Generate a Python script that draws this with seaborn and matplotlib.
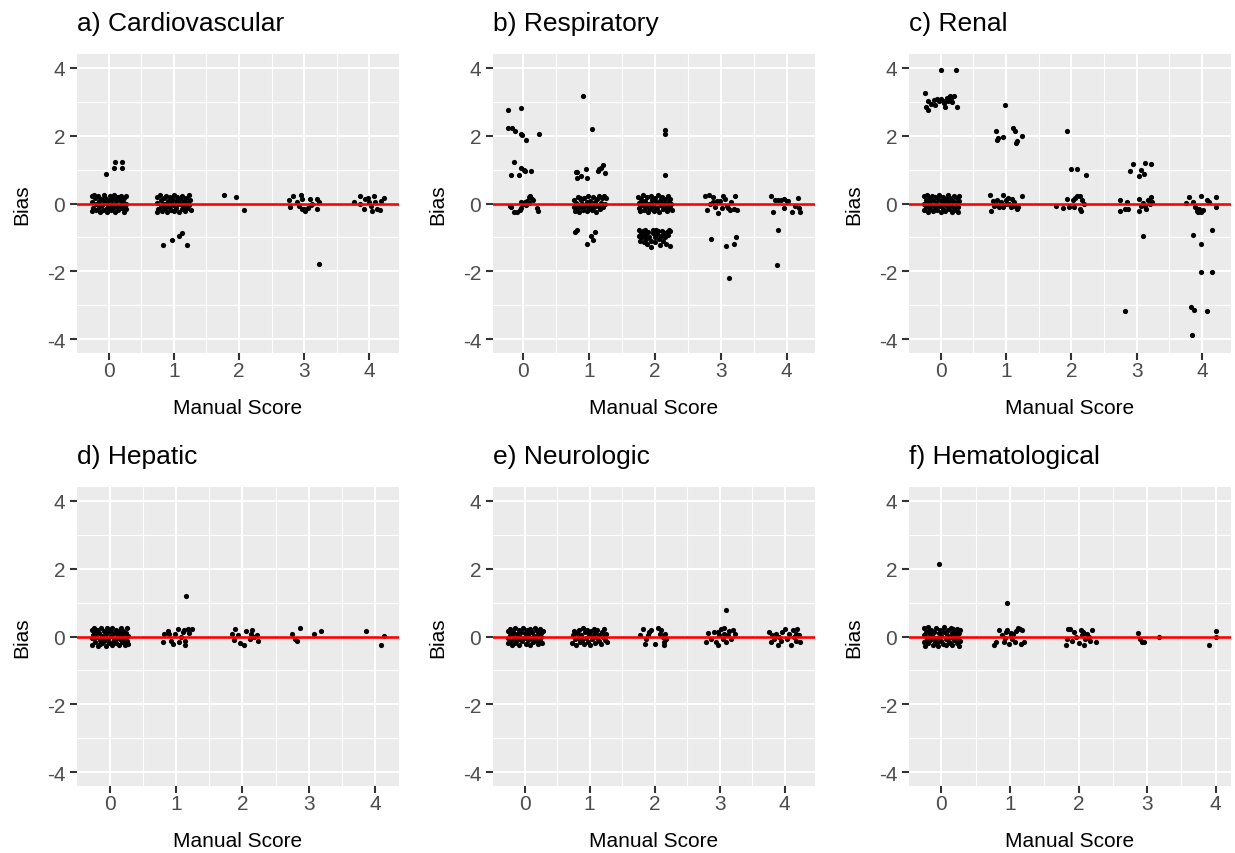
import matplotlib
matplotlib.use("Agg")
import matplotlib.pyplot as plt
import seaborn as sns
import pandas as pd
from matplotlib.ticker import MultipleLocator

# ---------------- data (x already jittered) ----------------
panel_titles = ["a) Cardiovascular", "b) Respiratory", "c) Renal",
                "d) Hepatic", "e) Neurologic", "f) Hematological"]
x_ticks = [0, 1, 2, 3, 4]
y_ticks = [-4, -2, 0, 2, 4]

cardio_pts = [
    (-0.26, 0.22), (-0.25, 0.05), (-0.24, -0.12), (-0.26, -0.23), (-0.21, 0.15), (-0.2, -0.02),
    (-0.19, -0.18), (-0.22, 0.24), (-0.16, 0.21), (-0.15, 0.08), (-0.14, -0.09), (-0.13, -0.25),
    (-0.11, 0.13), (-0.1, -0.04), (-0.09, -0.2), (-0.07, 0.25), (-0.05, 0.17), (-0.04, 0.02),
    (-0.03, -0.13), (-0.02, -0.24), (0.0, 0.09), (0.01, -0.06), (0.02, 0.22), (0.04, -0.19),
    (0.05, 0.14), (0.06, 0.0), (0.08, -0.11), (0.09, 0.24), (0.1, -0.25), (0.12, 0.06),
    (0.13, -0.07), (0.14, 0.18), (0.15, -0.2), (0.17, 0.1), (0.18, -0.03), (0.19, 0.23),
    (0.2, -0.14), (0.22, 0.04), (0.23, -0.24), (0.24, 0.16), (0.25, -0.08), (0.26, 0.21),
    (0.27, -0.17), (0.26, 0.0), (-0.17, 0.0), (0.11, 0.19), (-0.08, 0.1), (0.03, -0.03),
    (-0.04, 0.87), (0.08, 1.06), (0.1, 1.23), (0.21, 1.21), (0.21, 1.04),
    (0.74, 0.18), (0.75, 0.02), (0.76, -0.15), (0.75, -0.24), (0.79, 0.24), (0.8, 0.09),
    (0.81, -0.06), (0.82, -0.21), (0.85, 0.15), (0.86, -0.01), (0.87, -0.13), (0.88, 0.23),
    (0.9, -0.25), (0.91, 0.06), (0.92, -0.09), (0.94, 0.19), (0.95, -0.18), (0.96, 0.03),
    (0.98, 0.12), (0.99, -0.05), (1.0, 0.24), (1.01, -0.22), (1.03, 0.08), (1.04, -0.12),
    (1.05, 0.2), (1.07, -0.02), (1.08, -0.24), (1.09, 0.14), (1.11, 0.0), (1.12, -0.16),
    (1.13, 0.23), (1.15, 0.07), (1.16, -0.08), (1.17, -0.23), (1.19, 0.17), (1.2, 0.02),
    (1.21, -0.14), (1.23, 0.24), (1.24, -0.05), (1.25, 0.11), (1.26, -0.2), (0.83, 0.0), (1.06, 0.05),
    (0.83, -1.22), (0.97, -1.09), (1.08, -0.96), (1.12, -0.88), (1.21, -1.22),
    (1.77, 0.24), (1.96, 0.2), (2.07, -0.2),
    (2.77, 0.1), (2.79, -0.1), (2.83, 0.21), (2.89, 0.03), (2.95, 0.25), (2.96, 0.13),
    (2.99, -0.17), (3.02, -0.22), (3.06, -0.12), (3.09, 0.13), (3.1, -0.04), (3.2, 0.13),
    (3.23, 0.03), (3.2, -0.17), (2.92, -0.07), (2.97, -0.15), (3.12, -0.02), (3.23, -1.79),
    (3.76, 0.03), (3.85, 0.23), (3.91, -0.15), (3.94, 0.13), (3.98, 0.15), (4.0, 0.03),
    (4.04, -0.22), (4.07, 0.23), (4.09, 0.05), (4.11, -0.15), (4.16, -0.19), (4.18, 0.08),
    (4.23, 0.15), (3.86, -0.02), (4.02, -0.07),
]

resp_pts = [
    (-0.23, 2.76), (-0.03, 2.82), (-0.22, 2.24), (-0.16, 2.24), (-0.12, 2.14), (-0.03, 2.05),
    (-0.01, 2.01), (0.05, 1.87), (0.24, 2.04), (-0.13, 1.23), (-0.03, 1.06), (0.02, 0.99),
    (0.03, 0.95), (0.12, 0.97), (-0.18, 0.85), (-0.06, 0.84),
    (-0.2, -0.07), (-0.14, -0.25), (-0.09, -0.24), (-0.05, -0.19), (-0.02, -0.12), (0.01, -0.02),
    (0.04, 0.03), (0.06, 0.06), (0.09, 0.18), (0.11, 0.23), (0.14, 0.13), (0.16, 0.1),
    (0.1, 0.01), (0.05, -0.05), (0.21, -0.12), (0.23, -0.23), (-0.18, -0.1), (-0.03, 0.05),
    (0.92, 3.18), (1.05, 2.2),
    (0.82, 0.94), (0.8, 0.92), (0.82, 0.74), (0.89, 0.8), (0.96, 1.01), (0.98, 0.76),
    (1.14, 0.97), (1.18, 1.06), (1.21, 1.14), (1.25, 0.89), (1.16, 1.01),
    (0.77, 0.09), (0.78, -0.1), (0.79, -0.22), (0.8, 0.02), (0.82, -0.15), (0.83, 0.2),
    (0.84, -0.05), (0.86, -0.24), (0.88, 0.1), (0.89, -0.12), (0.9, 0.0), (0.92, -0.2),
    (0.93, 0.16), (0.95, -0.08), (0.97, 0.04), (0.98, -0.23), (0.99, 0.22), (1.01, -0.14),
    (1.02, 0.07), (1.04, -0.03), (1.05, -0.2), (1.07, 0.18), (1.08, -0.1), (1.1, 0.03),
    (1.11, -0.24), (1.13, 0.12), (1.14, -0.06), (1.16, 0.21), (1.17, -0.17), (1.19, 0.01),
    (1.2, 0.15), (1.22, -0.1), (1.23, 0.22), (1.25, -0.02), (1.26, 0.17), (0.87, 0.15), (1.0, -0.05),
    (0.79, -0.84), (0.82, -0.79), (1.1, -0.83), (1.04, -0.96), (0.97, -1.19), (1.06, -1.09),
    (2.16, 2.18), (2.16, 2.05), (2.16, 0.85),
    (1.75, 0.2), (1.76, 0.02), (1.77, -0.14), (1.78, -0.23), (1.8, 0.12), (1.81, -0.05),
    (1.83, 0.24), (1.84, -0.19), (1.86, 0.07), (1.87, -0.1), (1.89, 0.18), (1.9, -0.25),
    (1.91, 0.0), (1.93, -0.15), (1.94, 0.22), (1.96, 0.1), (1.97, -0.06), (1.99, -0.21),
    (2.0, 0.16), (2.02, 0.03), (2.03, -0.12), (2.05, 0.24), (2.06, -0.24), (2.08, 0.08),
    (2.09, -0.04), (2.11, 0.19), (2.12, -0.17), (2.14, 0.01), (2.15, 0.13), (2.17, -0.09),
    (2.18, -0.23), (2.2, 0.21), (2.21, 0.05), (2.23, -0.13), (2.24, 0.14), (2.25, -0.02),
    (2.26, -0.2), (1.79, 0.05), (1.95, 0.0), (2.1, 0.13), (2.19, 0.0), (1.85, -0.08),
    (1.76, -0.78), (1.77, -0.95), (1.78, -1.1), (1.8, -0.86), (1.81, -1.0), (1.83, -0.8),
    (1.84, -1.15), (1.86, -0.92), (1.87, -1.05), (1.89, -1.2), (1.9, -0.84), (1.92, -0.98),
    (1.94, -1.27), (1.95, -1.1), (1.97, -0.88), (1.98, -0.79), (2.0, -1.0), (2.01, -1.14),
    (2.03, -0.9), (2.05, -0.82), (2.06, -1.05), (2.08, -1.22), (2.09, -0.95), (2.11, -0.8),
    (2.12, -1.12), (2.14, -0.87), (2.15, -1.0), (2.17, -1.18), (2.18, -0.83), (2.2, -0.93),
    (2.21, -0.77), (2.23, -1.25), (2.24, -0.8), (1.85, -0.78), (2.02, -0.77),
    (2.76, 0.23), (2.83, 0.25), (2.89, 0.18), (2.94, 0.03), (2.95, 0.08), (2.99, 0.06),
    (3.04, 0.23), (3.06, 0.13), (3.09, -0.07), (3.11, -0.12), (3.16, 0.03), (3.22, 0.23),
    (3.21, -0.17), (3.25, -0.19), (2.79, -0.2), (2.84, -0.02), (2.92, -0.1), (2.96, -0.27),
    (3.02, -0.12), (3.14, -0.19), (2.89, 0.05),
    (2.86, -1.05), (3.08, -1.25), (3.2, -1.18), (3.23, -0.98), (3.12, -2.2),
    (3.76, 0.22), (3.82, 0.1), (3.87, 0.11), (3.92, 0.1), (3.96, 0.13), (4.0, 0.08),
    (4.03, 0.06), (3.79, -0.26), (3.96, -0.13), (4.08, -0.24), (4.18, 0.15), (4.19, -0.12),
    (4.21, -0.25), (3.87, -0.78), (3.86, -1.82), (4.13, -0.07),
]

renal_pts = [
    (0.0, 3.93), (0.24, 3.95), (-0.24, 3.25), (-0.19, 3.01), (-0.22, 2.84), (-0.19, 2.77),
    (-0.14, 2.93), (-0.08, 2.91), (-0.06, 3.08), (-0.02, 3.01), (0.01, 3.08), (0.04, 3.03),
    (0.05, 2.96), (0.07, 2.84), (0.09, 3.11), (0.11, 3.01), (0.14, 3.16), (0.16, 3.1),
    (0.18, 2.98), (0.2, 3.16), (0.25, 2.84), (-0.1, 3.05),
    (-0.26, 0.21), (-0.26, -0.02), (-0.25, -0.2), (-0.23, 0.1), (-0.22, -0.11), (-0.21, 0.25),
    (-0.2, -0.26), (-0.18, 0.04), (-0.17, 0.17), (-0.16, -0.16), (-0.14, -0.04), (-0.13, 0.23),
    (-0.12, 0.09), (-0.11, -0.23), (-0.09, -0.1), (-0.08, 0.19), (-0.07, 0.01), (-0.05, -0.19),
    (-0.04, 0.12), (-0.03, 0.25), (-0.01, -0.06), (0.0, -0.25), (0.01, 0.06), (0.03, 0.2),
    (0.04, -0.15), (0.05, 0.0), (0.07, -0.22), (0.08, 0.14), (0.09, -0.08), (0.11, 0.24),
    (0.12, 0.03), (0.13, -0.17), (0.15, 0.17), (0.16, -0.04), (0.17, -0.26), (0.19, 0.08),
    (0.2, -0.12), (0.21, 0.22), (0.23, -0.2), (0.24, 0.02), (0.25, 0.15), (0.26, -0.09),
    (0.27, -0.24), (0.28, 0.23), (0.28, 0.06), (-0.19, -0.06), (0.14, 0.1), (-0.06, -0.03), (0.06, 0.1),
    (0.99, 2.92), (0.85, 2.15), (0.88, 1.93), (0.87, 1.88), (0.95, 1.97), (1.11, 2.22),
    (1.14, 2.15), (1.17, 1.85), (1.15, 1.79), (1.24, 2.0),
    (0.76, 0.24), (0.77, -0.23), (0.8, 0.06), (0.82, -0.06), (0.85, -0.03), (0.9, -0.11),
    (0.95, 0.24), (0.96, -0.11), (1.0, 0.09), (1.03, 0.16), (1.05, -0.01), (1.07, -0.11),
    (1.09, 0.14), (1.1, -0.06), (1.13, 0.04), (1.15, -0.06), (1.17, -0.16), (1.19, -0.11),
    (1.24, 0.22), (1.0, -0.01), (0.92, 0.04), (0.87, 0.09),
    (1.94, 2.14), (2.0, 1.01), (2.09, 1.02), (2.23, 0.84),
    (1.76, -0.06), (1.88, -0.12), (1.94, 0.14), (1.96, -0.11), (2.04, -0.11), (2.06, 0.16),
    (2.09, 0.21), (2.13, 0.21), (2.14, -0.16), (2.17, 0.09), (2.19, -0.01), (2.15, -0.21), (2.02, 0.09),
    (2.9, 0.97), (2.95, 1.17), (3.07, 0.98), (3.03, 0.8), (3.11, 0.86), (3.13, 1.2), (3.22, 1.16),
    (2.75, 0.09), (2.75, -0.21), (2.82, -0.16), (2.85, 0.04), (2.87, -0.16), (3.03, -0.23),
    (3.04, 0.14), (3.06, -0.06), (3.1, 0.02), (3.13, -0.06), (3.15, -0.16), (3.17, 0.09),
    (3.2, -0.01), (3.22, 0.19), (3.24, 0.04),
    (3.1, -0.97), (2.82, -3.18),
    (3.76, 0.02), (3.8, 0.19), (3.86, 0.04), (3.89, -0.11), (3.92, -0.21), (3.94, -0.26),
    (3.98, 0.22), (3.98, -0.26), (4.01, -0.18), (4.08, 0.09), (4.11, 0.04), (4.21, 0.19),
    (4.22, -0.09), (3.95, -0.16),
    (3.87, -0.94), (4.16, -0.78), (3.98, -1.18), (3.98, -2.03), (4.16, -2.02), (3.83, -3.06),
    (3.88, -3.15), (4.07, -3.18), (3.84, -3.89),
]

hepatic_pts = [
    (-0.27, 0.18), (-0.27, -0.05), (-0.26, -0.24), (-0.24, 0.26), (-0.23, 0.07), (-0.22, -0.15),
    (-0.2, -0.02), (-0.19, 0.2), (-0.18, -0.27), (-0.16, 0.11), (-0.15, -0.1), (-0.13, 0.25),
    (-0.12, -0.2), (-0.11, 0.02), (-0.09, 0.16), (-0.08, -0.13), (-0.06, -0.27), (-0.05, 0.08),
    (-0.04, 0.24), (-0.02, -0.06), (-0.01, -0.2), (0.0, 0.15), (0.02, 0.01), (0.03, -0.25),
    (0.04, 0.26), (0.06, -0.11), (0.07, 0.09), (0.09, -0.19), (0.1, 0.2), (0.11, -0.03),
    (0.13, 0.13), (0.14, -0.26), (0.15, -0.08), (0.17, 0.24), (0.18, 0.04), (0.19, -0.17),
    (0.21, 0.17), (0.22, -0.04), (0.23, -0.24), (0.25, 0.1), (0.26, 0.25), (0.27, -0.12),
    (0.28, 0.02), (0.28, -0.22), (-0.25, 0.04), (0.12, 0.05), (-0.1, -0.01), (0.2, -0.1),
    (-0.21, 0.13), (-0.14, -0.23), (-0.03, 0.12), (0.05, -0.16), (0.16, 0.16), (0.24, -0.17),
    (1.15, 1.2),
    (0.81, -0.15), (0.82, 0.07), (0.88, 0.16), (0.9, 0.08), (0.93, -0.12), (0.95, -0.21),
    (0.99, 0.06), (1.03, 0.22), (1.04, -0.17), (1.08, -0.02), (1.1, 0.13), (1.13, -0.24),
    (1.14, -0.14), (1.18, 0.22), (1.2, 0.1), (1.24, 0.23), (1.12, 0.18),
    (1.85, 0.06), (1.88, -0.09), (1.89, 0.21), (1.93, 0.03), (1.97, -0.18), (2.03, -0.25),
    (2.05, 0.16), (2.11, -0.07), (2.13, 0.06), (2.15, 0.18), (2.22, 0.03), (2.23, -0.12), (2.17, -0.02),
    (2.75, 0.06), (2.8, -0.07), (2.83, -0.14), (2.87, 0.25), (3.08, 0.06), (3.18, 0.15),
    (3.87, 0.15), (4.09, -0.25), (4.14, 0.01),
]

neuro_pts = [
    (-0.26, 0.15), (-0.25, -0.04), (-0.25, -0.2), (-0.23, 0.23), (-0.22, 0.05), (-0.21, -0.13),
    (-0.19, -0.25), (-0.18, 0.14), (-0.16, -0.03), (-0.15, 0.25), (-0.14, -0.18), (-0.12, 0.08),
    (-0.11, -0.09), (-0.09, 0.2), (-0.08, -0.24), (-0.07, 0.0), (-0.05, 0.13), (-0.04, -0.14),
    (-0.02, 0.26), (-0.01, -0.04), (0.01, 0.1), (0.02, -0.22), (0.04, 0.19), (0.05, -0.1),
    (0.06, 0.03), (0.08, -0.26), (0.09, 0.23), (0.1, -0.05), (0.12, 0.12), (0.13, -0.17),
    (0.15, 0.02), (0.16, 0.25), (0.17, -0.1), (0.19, 0.16), (0.2, -0.23), (0.21, 0.04),
    (0.23, -0.13), (0.24, 0.21), (0.25, -0.02), (0.26, 0.1), (0.27, -0.2), (0.28, 0.17),
    (-0.2, 0.06), (0.07, 0.1), (-0.06, -0.08),
    (0.73, -0.2), (0.74, 0.05), (0.76, 0.15), (0.77, -0.08), (0.79, -0.25), (0.81, 0.1),
    (0.82, -0.03), (0.84, 0.2), (0.85, -0.17), (0.87, 0.03), (0.88, -0.1), (0.9, 0.24),
    (0.91, -0.22), (0.93, 0.12), (0.94, -0.04), (0.96, 0.19), (0.97, -0.15), (0.99, 0.06),
    (1.0, -0.25), (1.02, 0.16), (1.03, -0.07), (1.05, 0.02), (1.06, 0.23), (1.08, -0.19),
    (1.09, 0.1), (1.11, -0.03), (1.12, 0.18), (1.14, -0.12), (1.15, 0.05), (1.17, -0.23),
    (1.19, 0.14), (1.2, 0.0), (1.22, 0.22), (1.24, -0.09), (1.25, 0.07), (1.27, -0.16),
    (1.77, 0.03), (1.82, 0.23), (1.85, -0.22), (1.87, -0.07), (1.92, 0.13), (1.95, 0.18),
    (2.0, -0.22), (2.05, 0.25), (2.08, 0.08), (2.1, 0.18), (2.13, -0.02), (2.15, -0.17),
    (2.16, 0.08), (2.18, -0.07), (2.14, -0.25), (1.9, 0.03),
    (3.09, 0.79),
    (2.79, -0.17), (2.82, 0.1), (2.87, -0.07), (2.92, 0.13), (2.94, -0.17), (2.97, -0.24),
    (2.99, 0.03), (3.02, 0.23), (3.05, -0.07), (3.07, 0.25), (3.1, -0.17), (3.12, 0.03),
    (3.15, 0.15), (3.17, -0.07), (3.21, 0.18), (3.24, 0.08), (2.98, 0.13), (3.06, 0.08),
    (3.76, 0.13), (3.79, -0.17), (3.84, -0.07), (3.86, 0.08), (3.89, -0.25), (3.91, 0.0),
    (3.96, 0.13), (4.0, 0.23), (4.03, -0.07), (4.07, 0.08), (4.09, -0.24), (4.12, 0.18),
    (4.14, -0.02), (4.17, -0.12), (4.19, 0.23), (4.22, 0.03), (4.24, -0.17), (3.81, 0.03),
    (3.94, -0.12), (4.18, 0.08),
]

hemato_pts = [
    (-0.26, 0.24), (-0.26, 0.04), (-0.25, -0.15), (-0.24, -0.27), (-0.22, 0.14), (-0.21, -0.06),
    (-0.2, 0.27), (-0.19, -0.2), (-0.17, 0.07), (-0.16, -0.1), (-0.15, 0.2), (-0.13, -0.25),
    (-0.12, 0.0), (-0.11, 0.13), (-0.09, -0.16), (-0.08, 0.25), (-0.06, -0.04), (-0.05, -0.27),
    (-0.04, 0.1), (-0.02, 0.2), (-0.01, -0.12), (0.0, 0.02), (0.02, -0.22), (0.03, 0.27),
    (0.04, 0.12), (0.06, -0.07), (0.07, -0.26), (0.08, 0.05), (0.1, 0.19), (0.11, -0.15),
    (0.12, -0.01), (0.14, 0.26), (0.15, -0.24), (0.16, 0.09), (0.18, -0.09), (0.19, 0.17),
    (0.2, 0.0), (0.22, -0.19), (0.23, 0.23), (0.24, -0.04), (0.25, 0.11), (0.26, -0.27),
    (0.27, 0.18), (0.27, -0.12), (-0.23, 0.0), (-0.1, -0.06), (0.09, 0.0), (0.21, 0.06),
    (-0.18, 0.17), (-0.07, -0.19), (0.01, 0.16), (0.13, -0.2), (0.17, 0.21), (-0.14, -0.02),
    (-0.04, 2.14),
    (0.96, 0.98),
    (0.77, -0.24), (0.8, -0.17), (0.84, 0.2), (0.89, 0.03), (0.91, -0.15), (0.94, 0.13),
    (0.96, 0.18), (0.99, -0.22), (1.01, 0.03), (1.03, -0.07), (1.05, 0.08), (1.07, -0.17),
    (1.09, 0.15), (1.11, 0.25), (1.14, 0.23), (1.16, -0.22), (1.18, 0.18), (1.2, -0.15),
    (0.93, -0.05), (1.02, 0.11),
    (1.81, -0.24), (1.83, -0.07), (1.84, 0.23), (1.88, 0.21), (1.91, -0.12), (1.93, 0.13),
    (1.96, -0.02), (2.0, -0.19), (2.03, 0.18), (2.05, 0.03), (2.08, -0.24), (2.1, -0.07),
    (2.13, 0.08), (2.15, -0.02), (2.17, -0.12), (2.2, 0.18), (2.25, -0.17), (2.07, 0.13),
    (2.86, 0.11), (2.89, -0.07), (2.92, -0.15), (2.95, -0.17), (3.18, -0.02),
    (3.9, -0.24), (4.0, 0.15), (4.01, -0.02),
]

panel_data = [cardio_pts, resp_pts, renal_pts, hepatic_pts, neuro_pts, hemato_pts]

# ---------------- style ----------------
sns.set_theme(style="darkgrid")
plt.rcParams["font.family"] = ["Liberation Sans", "DejaVu Sans"]
plt.rcParams["axes.unicode_minus"] = False

W, H = 1235, 854
fig = plt.figure(figsize=(W / 100, H / 100), dpi=100)

lefts = [77, 493, 909]
tops = [55, 488]
pw, ph = 322, 299

for i, (title, pts) in enumerate(zip(panel_titles, panel_data)):
    r, c = divmod(i, 3)
    ax = fig.add_axes([lefts[c] / W, 1 - (tops[r] + ph) / H, pw / W, ph / H])
    ax.set_facecolor("#EBEBEB")
    df = pd.DataFrame(pts, columns=["Manual Score", "Bias"])
    sns.scatterplot(data=df, x="Manual Score", y="Bias", ax=ax, color="black",
                    s=14, linewidth=0, zorder=3)
    ax.axhline(0, color="red", lw=1.9, zorder=4)

    xmin, xmax = df["Manual Score"].min(), df["Manual Score"].max()
    pad = 0.05 * (xmax - xmin)
    ax.set_xlim(xmin - pad, xmax + pad)
    ax.set_ylim(-4.41, 4.41)
    ax.set_xticks(x_ticks)
    ax.set_yticks(y_ticks)
    ax.xaxis.set_minor_locator(MultipleLocator(0.5))
    ax.yaxis.set_minor_locator(MultipleLocator(1))
    ax.grid(which="major", color="white", lw=1.5)
    ax.grid(which="minor", color="white", lw=0.8)
    ax.set_axisbelow(True)
    for s in ax.spines.values():
        s.set_visible(False)
    ax.tick_params(which="major", length=5, width=1.5, color="#333333",
                   labelsize=15, labelcolor="#4D4D4D",
                   bottom=True, left=True)
    ax.tick_params(axis="x", pad=1)
    ax.tick_params(axis="y", pad=3.5)
    ax.tick_params(which="minor", length=0)
    ax.set_xlabel("Manual Score", fontsize=15, labelpad=13, color="black")
    ax.set_ylabel("Bias", fontsize=15, labelpad=11, color="black")
    ax.set_title(title, loc="left", fontsize=19, pad=17, color="black")

fig.savefig("out.png", dpi=100, facecolor="white")
